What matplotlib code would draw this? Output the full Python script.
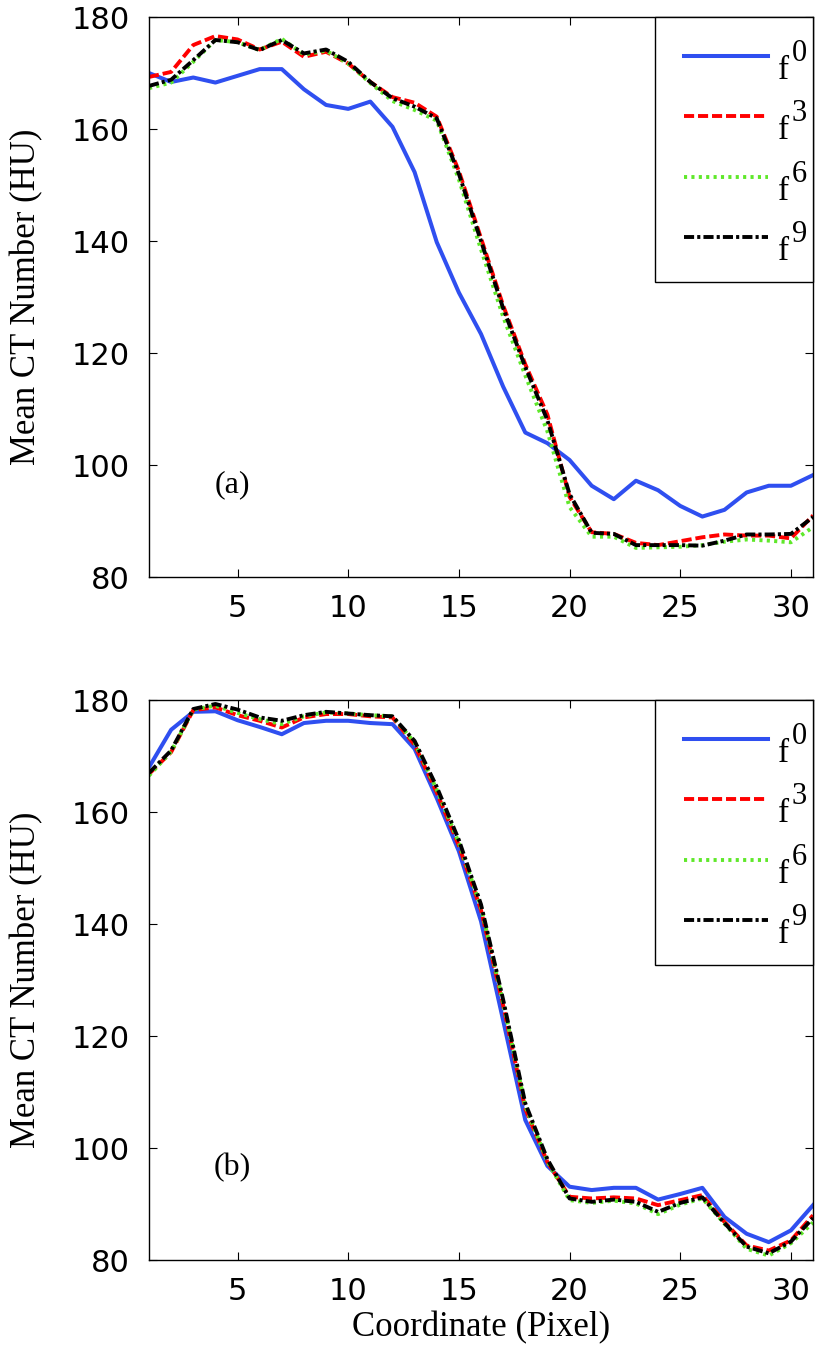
import matplotlib
matplotlib.use('Agg')
import matplotlib.pyplot as plt

# pixel coordinate along the profile
coord = list(range(1, 32))

# panel (a)
f0_a = [170.0, 168.4, 169.2, 168.3, 169.5, 170.7, 170.7, 167.1, 164.3, 163.6, 164.9, 160.4, 152.3, 139.8, 130.8,
        123.4, 114.0, 105.8, 103.9, 100.9, 96.3, 93.9, 97.2, 95.5, 92.7, 90.8, 92.0, 95.1, 96.3, 96.3, 98.2]
f3_a = [169.3, 170.2, 175.0, 176.6, 176.0, 174.2, 175.6, 172.9, 173.8, 171.7, 168.4, 165.7, 164.7, 162.2, 152.5,
        140.5, 128.5, 118.0, 109.0, 94.3, 88.0, 87.7, 86.1, 85.7, 86.4, 87.1, 87.6, 87.4, 87.4, 86.9, 91.0]
f6_a = [167.3, 168.3, 172.0, 175.9, 175.5, 174.1, 176.1, 173.3, 174.0, 171.7, 168.2, 165.0, 163.4, 161.5, 151.0,
        138.5, 126.5, 116.0, 106.0, 92.5, 87.2, 87.2, 85.2, 85.3, 85.4, 85.7, 86.3, 86.7, 86.5, 86.2, 88.9]
f9_a = [167.7, 168.8, 172.3, 175.9, 175.5, 174.1, 175.9, 173.5, 174.2, 172.0, 168.4, 165.5, 164.0, 161.9, 152.0,
        140.0, 128.0, 117.5, 108.0, 94.8, 87.9, 87.7, 85.7, 85.7, 85.7, 85.6, 86.5, 87.6, 87.6, 87.7, 90.7]

# panel (b)
f0_b = [168.0, 174.7, 177.9, 178.0, 176.4, 175.2, 173.9, 175.9, 176.3, 176.3, 175.9, 175.7, 171.3, 162.5, 153.0,
        140.5, 122.8, 105.0, 96.8, 93.1, 92.5, 92.9, 92.9, 90.8, 91.8, 92.9, 87.7, 84.7, 83.2, 85.3, 89.8]
f3_b = [166.8, 170.7, 178.2, 178.7, 177.3, 176.3, 175.1, 176.9, 177.5, 177.5, 177.1, 176.9, 172.0, 163.5, 154.0,
        142.5, 125.5, 107.0, 97.5, 91.3, 91.0, 91.2, 91.0, 89.8, 90.7, 91.6, 86.8, 82.6, 81.7, 83.5, 88.0]
f6_b = [166.5, 170.8, 178.3, 179.0, 177.7, 176.6, 175.7, 177.1, 177.8, 177.6, 177.3, 177.1, 172.4, 164.0, 154.5,
        143.0, 126.0, 107.5, 97.6, 90.7, 90.2, 90.6, 90.1, 88.2, 89.9, 91.0, 86.5, 82.0, 80.8, 83.0, 86.7]
f9_b = [167.0, 171.0, 178.4, 179.3, 178.3, 176.9, 176.3, 177.3, 177.9, 177.6, 177.3, 177.1, 172.7, 164.5, 155.0,
        143.5, 126.5, 108.0, 98.0, 91.0, 90.4, 90.8, 90.4, 88.6, 90.2, 91.2, 86.6, 82.4, 81.2, 83.3, 87.5]

# legend entries: f with the filter index as superscript
powers = ['0', '3', '6', '9']
xticks = [5, 10, 15, 20, 25, 30]
yticks = [80, 100, 120, 140, 160, 180]

serif = 'Liberation Serif'
W, H = 820, 1352


def draw_panel(ax, series, tag):
    f0, f3, f6, f9 = series
    ax.plot(coord, f0, color='#2f4ff0', lw=2.9, ls='-', label='f' + powers[0])
    ax.plot(coord, f3, color='#ff0000', lw=2.8, ls=(0, (2.6, 1.0)), label='f' + powers[1])
    ax.plot(coord, f6, color='#5fe82a', lw=2.8, ls=(0, (0.8, 1.1)), label='f' + powers[2])
    ax.plot(coord, f9, color='black', lw=2.8, ls=(0, (2.6, 0.8, 0.8, 0.8)), label='f' + powers[3])

    ax.set_xlim(1, 31)
    ax.set_ylim(80, 180)
    ax.set_xticks(xticks)
    ax.set_yticks(yticks)
    ax.tick_params(direction='in', length=6, width=0.8, top=True, right=True)
    ax.tick_params(axis='y', pad=14)
    ax.tick_params(axis='x', pad=12)
    for lab in ax.get_xticklabels() + ax.get_yticklabels():
        lab.set_fontfamily('DejaVu Sans')
        lab.set_fontsize(22)
    for sp in ax.spines.values():
        sp.set_linewidth(1.0)

    ax.set_ylabel('Mean CT Number (HU)', fontfamily=serif, fontsize=25, labelpad=20)
    ax.text(4.75, 96.5, tag, fontfamily=serif, fontsize=23, ha='center', va='center')

    # legend texts only reserve room; the visible f^n labels are placed below
    leg = ax.legend(loc='upper right', borderaxespad=0, fancybox=False, framealpha=1,
                    edgecolor='black', prop={'family': serif, 'size': 20}, handlelength=3.0,
                    handletextpad=0.25, labelspacing=1.26, borderpad=1.05)
    leg.get_frame().set_linewidth(1.0)
    for t in leg.get_texts():
        t.set_text('f')
        t.set_alpha(0)
    return leg


fig = plt.figure(figsize=(8.2, 13.52), dpi=100)
ax1 = fig.add_axes([0.1817, 0.5732, 0.8098, 0.4142])
ax2 = fig.add_axes([0.1817, 0.0680, 0.8098, 0.4142])

legs = [draw_panel(ax1, (f0_a, f3_a, f6_a, f9_a), '(a)'),
        draw_panel(ax2, (f0_b, f3_b, f6_b, f9_b), '(b)')]
ax2.set_xlabel('Coordinate (Pixel)', fontfamily=serif, fontsize=25, labelpad=4)

fig.canvas.draw()
renderer = fig.canvas.get_renderer()
for leg in legs:
    for line, p in zip(leg.get_lines(), powers):
        bb = line.get_window_extent(renderer)
        yc = (bb.y0 + bb.y1) / 2
        fig.text((bb.x1 + 10) / W, (yc - 23) / H, 'f', fontfamily=serif, fontsize=24,
                 ha='left', va='baseline', zorder=10)
        fig.text((bb.x1 + 24) / W, (yc - 5) / H, p, fontfamily=serif, fontsize=22,
                 ha='left', va='baseline', zorder=10)

fig.savefig('out.png', dpi=100)
